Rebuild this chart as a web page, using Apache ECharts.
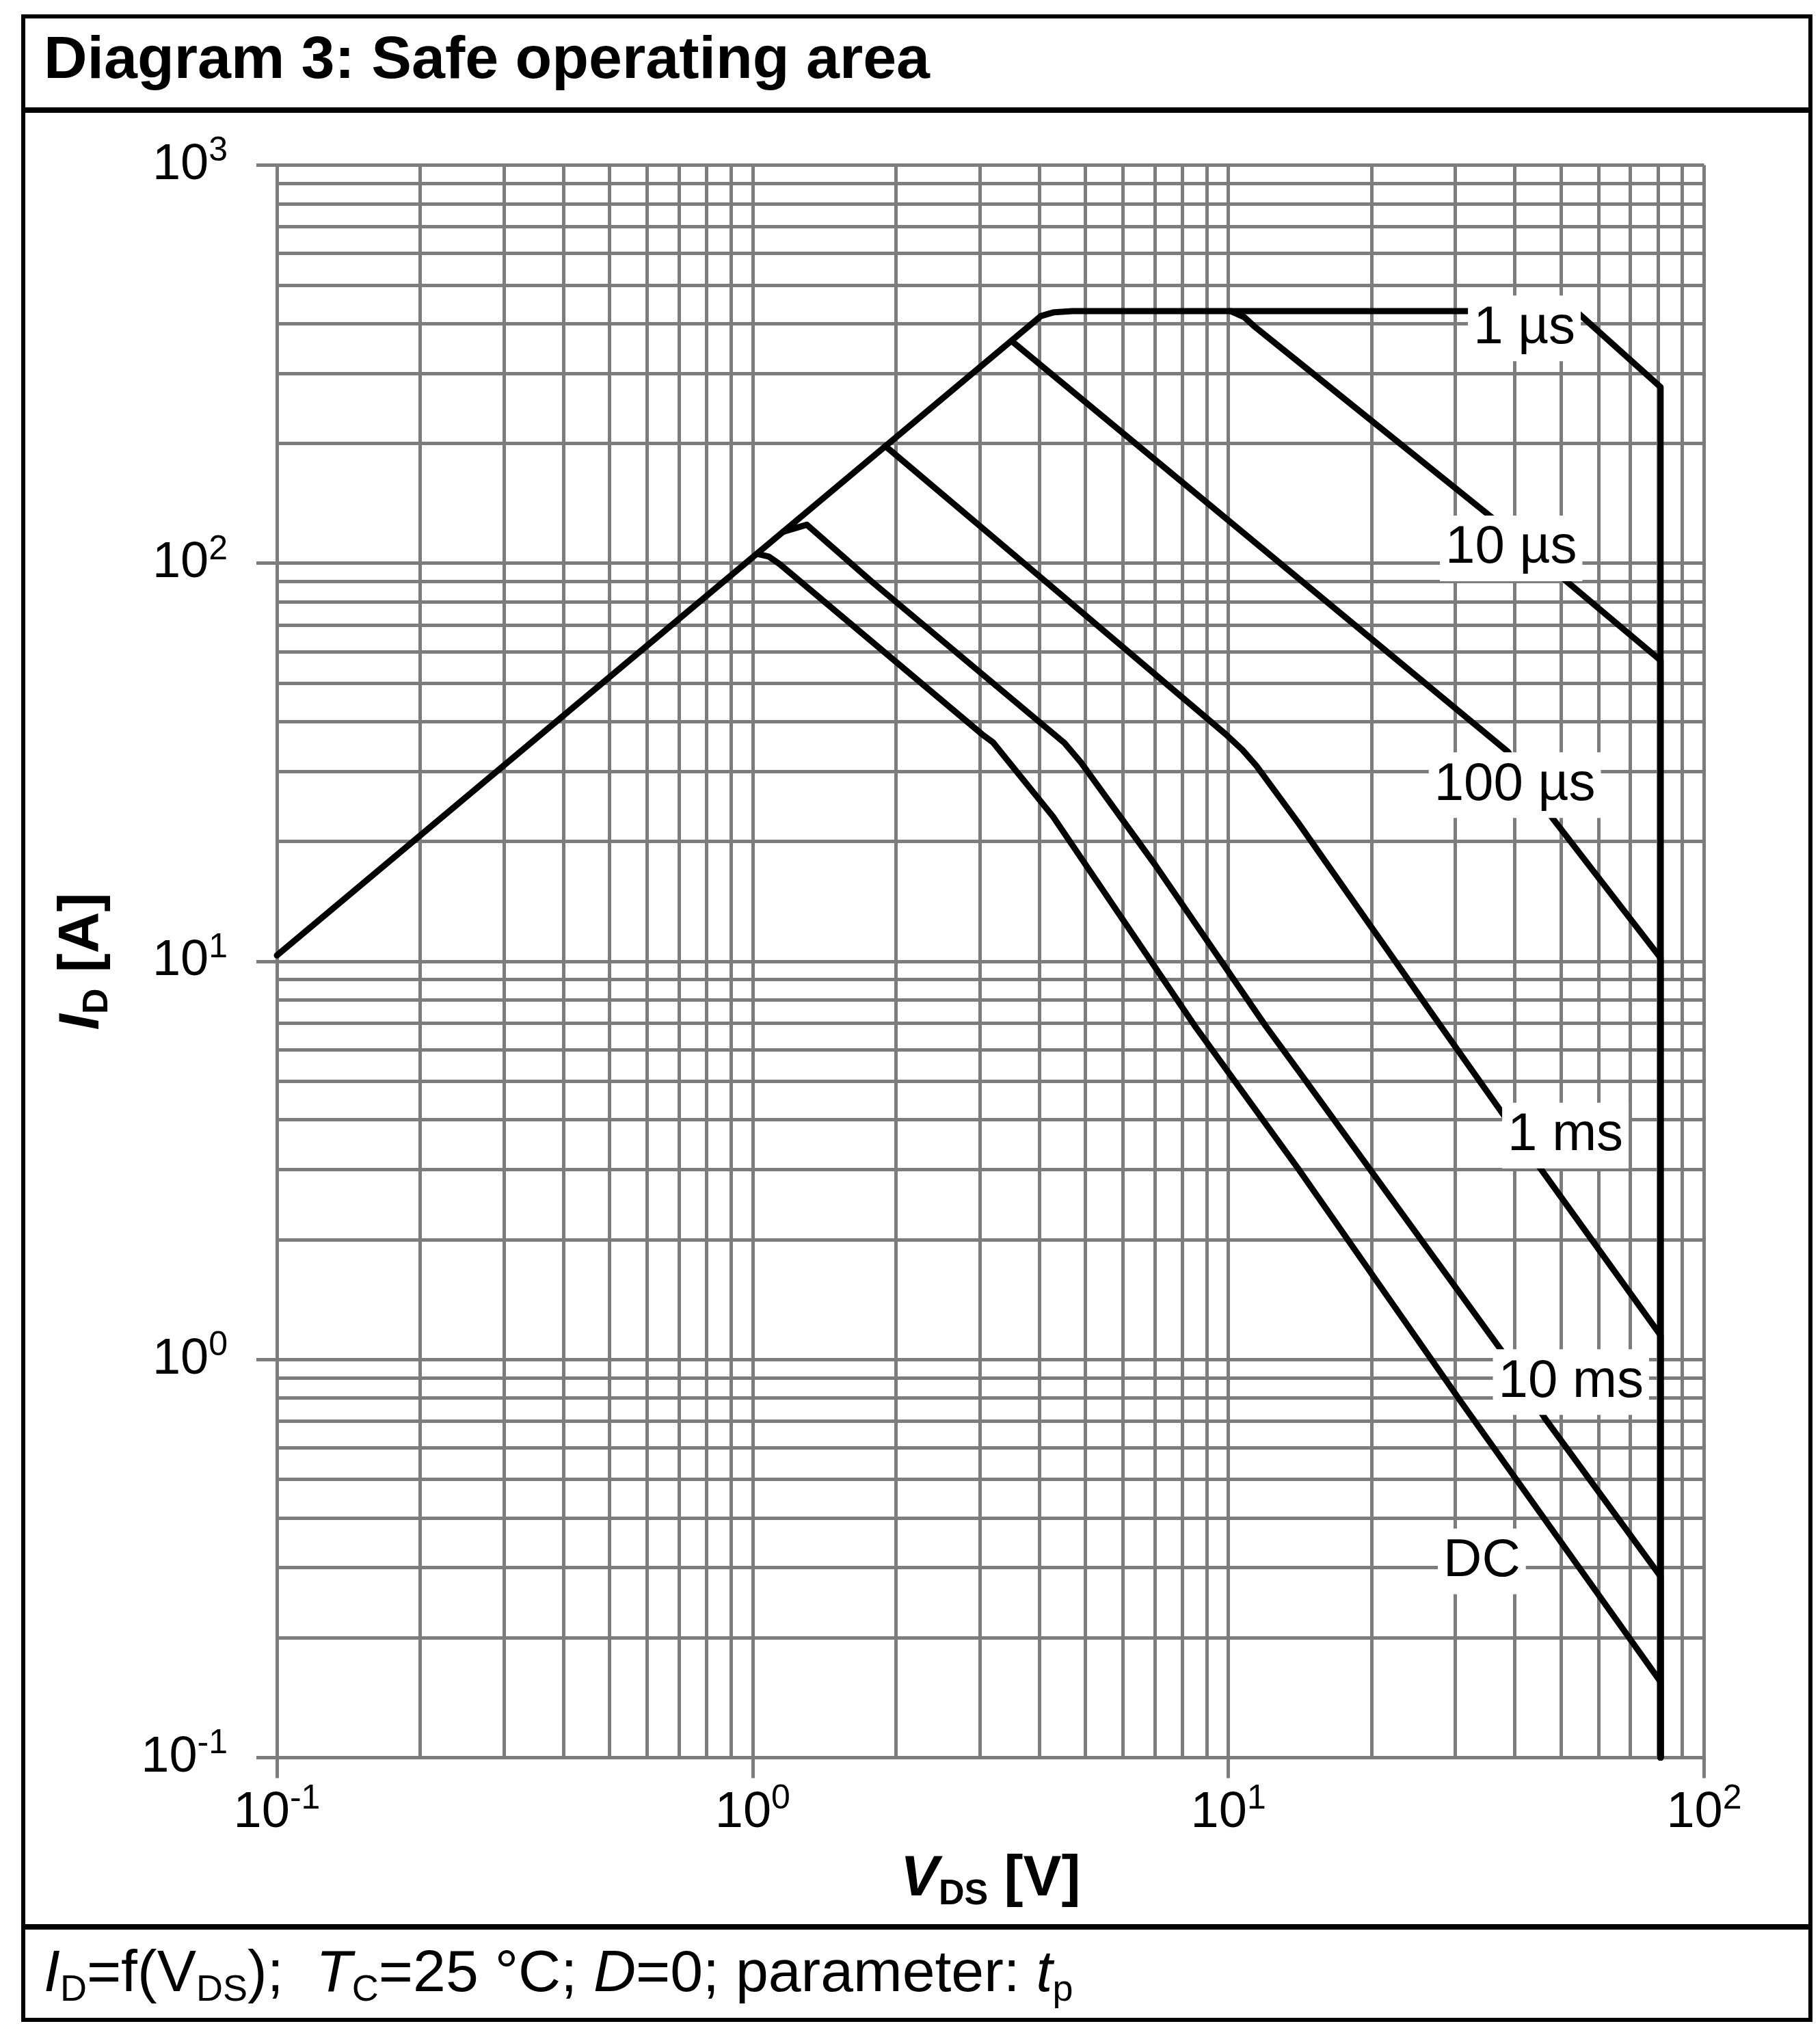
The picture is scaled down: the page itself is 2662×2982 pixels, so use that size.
<!DOCTYPE html>
<html>
<head>
<meta charset="utf-8">
<title>Diagram 3: Safe operating area</title>
<script src="https://cdn.jsdelivr.net/npm/echarts@6/dist/echarts.min.js"></script>
<style>
  html, body { margin: 0; padding: 0; background: #fff; }
  #chart { width: 2662px; height: 2982px; }
</style>
</head>
<body>
<div id="chart"></div>
<script>
// SOA curves, [V_DS in V, I_D in A]
const curve1us = [[0.1, 10.35], [1.0, 103.5], [4.04, 418], [4.3, 427], [4.7, 430], [52, 430], [54.6, 423], [81, 277], [81, 0.1]]
const curve10us = [[10.1, 430], [10.8, 415], [11.3, 395], [14.06, 320], [35.6, 131], [51.1, 90.6], [81, 57], [81, 0.1]]
const curve100us = [[3.5, 362], [38.7, 33.6], [48, 22.9], [81, 10.2], [81, 0.1]]
const curve1ms = [[1.9, 197], [4.04, 92], [9.87, 37.2], [10.7, 34], [11.45, 31.0], [14.06, 22.2], [27.9, 6.9], [37.8, 4.13], [45.1, 3.04], [81, 1.15], [81, 0.1]]
const curve10ms = [[1.16, 120], [1.3, 125], [1.778, 90], [4.52, 35.4], [4.9, 31.6], [7.01, 17.5], [11.96, 6.9], [14.06, 5.3], [37.8, 1.04], [46.3, 0.711], [81, 0.285], [81, 0.1]]
const curveDC = [[1.02, 105.6], [1.08, 104], [1.14, 99.5], [3.035, 37.2], [3.2, 35.5], [4.28, 23.1], [8.49, 6.9], [14.06, 3.0], [30.8, 0.784], [81, 0.155], [81, 0.1]]

// parameter labels: text, V, I
const curveLabels = [
  ['1 µs', 41.9, 389],
  ['10 µs', 39.3, 109],
  ['100 µs', 40.0, 27.7],
  ['1 ms', 51.1, 3.65],
  ['10 ms', 52.5, 0.878],
  ['DC', 34.1, 0.311]
]

const xRange = [0.1, 100]
const yRange = [0.1, 1000]

const FONT = '"Liberation Sans", Arial, Helvetica, sans-serif'
const GRID = '#7c7c7c'

const tickRich = {
  b: { fontFamily: FONT, fontSize: 74, lineHeight: 90, verticalAlign: 'middle', color: '#000' },
  s: { fontFamily: FONT, fontSize: 50, lineHeight: 50, verticalAlign: 'top', color: '#000' }
}
const powLabel = v => '{b|10}{s|' + Math.round(Math.log10(v)) + '}'

function logAxis(range) {
  return {
    type: 'log',
    logBase: 10,
    min: range[0],
    max: range[1],
    axisLine: { show: true, lineStyle: { color: GRID, width: 5 } },
    axisTick: { show: true, inside: false, length: 30, lineStyle: { color: GRID, width: 5 } },
    minorTick: { show: false, splitNumber: 9 },
    splitLine: { show: true, lineStyle: { color: GRID, width: 5 } },
    minorSplitLine: { show: true, lineStyle: { color: GRID, width: 5 } },
    axisLabel: { formatter: powLabel, rich: tickRich }
  }
}

const curves = [curve1us, curve10us, curve100us, curve1ms, curve10ms, curveDC]

const chart = echarts.init(document.getElementById('chart'), null, { renderer: 'canvas' })

const xAxis = logAxis(xRange)
xAxis.axisLabel.margin = 36
xAxis.name = '{v|V}{s|DS}{b| [V]}'
xAxis.nameLocation = 'middle'
xAxis.nameGap = 130
xAxis.nameTextStyle = {
  rich: {
    v: { fontFamily: FONT, fontSize: 84, fontWeight: 'bold', fontStyle: 'italic', lineHeight: 96, verticalAlign: 'middle', color: '#000' },
    s: { fontFamily: FONT, fontSize: 52, fontWeight: 'bold', lineHeight: 64, verticalAlign: 'bottom', color: '#000' },
    b: { fontFamily: FONT, fontSize: 84, fontWeight: 'bold', lineHeight: 96, verticalAlign: 'middle', color: '#000' }
  }
}

const yAxis = logAxis(yRange)
yAxis.axisLabel.margin = 72
yAxis.name = '{i|I}{s|D}{b| [A]}'
yAxis.nameLocation = 'middle'
yAxis.nameRotate = 90
yAxis.nameGap = 236
yAxis.nameTextStyle = {
  rich: {
    i: { fontFamily: FONT, fontSize: 84, fontWeight: 'bold', fontStyle: 'italic', lineHeight: 96, verticalAlign: 'middle', color: '#000' },
    s: { fontFamily: FONT, fontSize: 52, fontWeight: 'bold', lineHeight: 64, verticalAlign: 'bottom', color: '#000' },
    b: { fontFamily: FONT, fontSize: 84, fontWeight: 'bold', lineHeight: 96, verticalAlign: 'middle', color: '#000' }
  }
}

const footRich = {
  n: { fontFamily: FONT, fontSize: 86, lineHeight: 100, verticalAlign: 'middle', fill: '#000' },
  i: { fontFamily: FONT, fontSize: 86, fontStyle: 'italic', lineHeight: 100, verticalAlign: 'middle', fill: '#000' },
  s: { fontFamily: FONT, fontSize: 54, lineHeight: 66, verticalAlign: 'bottom', fill: '#000' }
}

chart.setOption({
  animation: false,
  backgroundColor: '#fff',
  grid: { left: 405, top: 241.5, right: 169.5, bottom: 411.5, containLabel: false },
  xAxis: xAxis,
  yAxis: yAxis,
  graphic: [
    { type: 'rect', silent: true, shape: { x: 34, y: 24, width: 2614, height: 2930 }, style: { fill: 'none', stroke: '#000', lineWidth: 6 } },
    { type: 'line', silent: true, shape: { x1: 34, y1: 161, x2: 2648, y2: 161 }, style: { stroke: '#000', lineWidth: 8 } },
    { type: 'line', silent: true, shape: { x1: 34, y1: 2818, x2: 2648, y2: 2818 }, style: { stroke: '#000', lineWidth: 8 } },
    {
      type: 'text', silent: true, x: 64, y: 90,
      style: {
        text: 'Diagram 3: Safe operating area',
        font: 'bold 88px ' + FONT, fill: '#000',
        align: 'left', verticalAlign: 'middle', textAlign: 'left', textVerticalAlign: 'middle'
      }
    },
    {
      type: 'text', silent: true, x: 64, y: 2888,
      style: {
        text: '{i|I}{s|D}{n|=f(V}{s|DS}{n|);  }{i|T}{s|C}{n|=25 °C; }{i|D}{n|=0; parameter: }{i|t}{s|p}',
        rich: footRich, fill: '#000',
        align: 'left', verticalAlign: 'middle', textAlign: 'left', textVerticalAlign: 'middle'
      }
    }
  ],
  series: curves.map(c => ({
    type: 'line',
    data: c,
    showSymbol: false,
    symbol: 'none',
    smooth: false,
    silent: true,
    z: 3,
    lineStyle: { color: '#000', width: 9, join: 'round', cap: 'round' }
  })).concat([{
    type: 'scatter',
    silent: true,
    z: 10,
    symbolSize: 1,
    itemStyle: { color: '#fff' },
    emphasis: { disabled: true },
    data: curveLabels.map(l => ({ name: l[0], value: [l[1], l[2]] })),
    label: {
      show: true,
      position: 'inside',
      formatter: '{b}',
      fontFamily: FONT,
      fontSize: 78,
      lineHeight: 80,
      color: '#000',
      opacity: 1,
      textBorderWidth: 0,
      textBorderColor: 'transparent',
      backgroundColor: '#fff',
      padding: [8, 8, 8, 8]
    }
  }])
})
</script>
</body>
</html>
